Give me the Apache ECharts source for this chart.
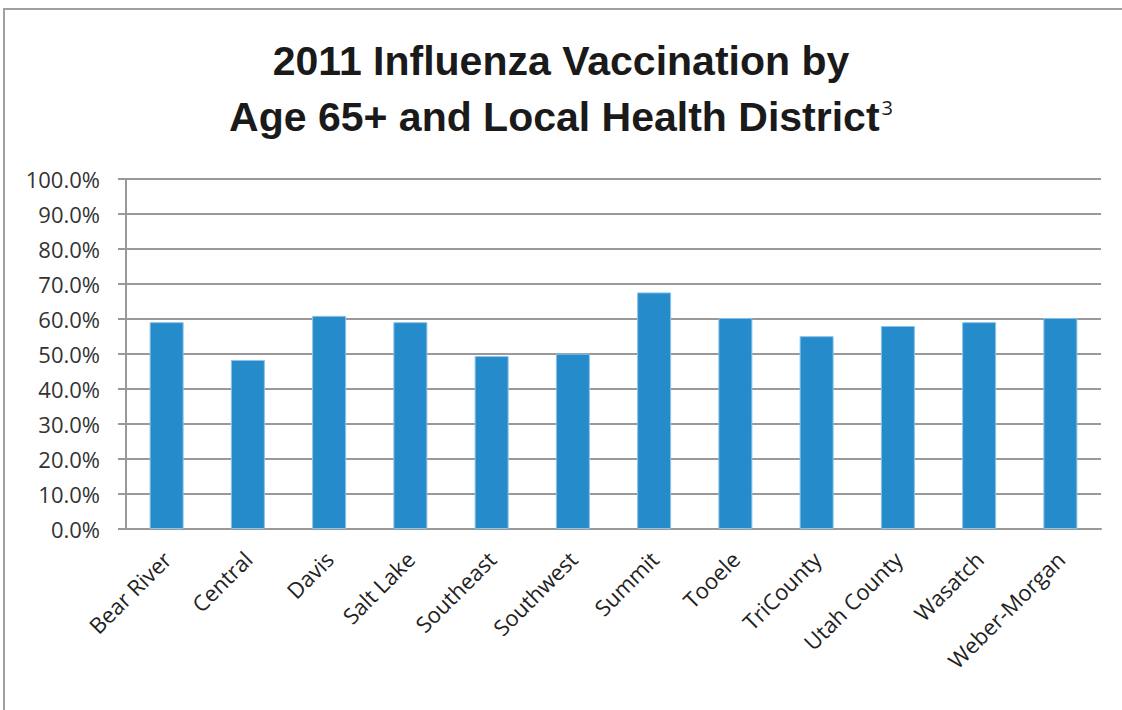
<!DOCTYPE html>
<html>
<head>
<meta charset="utf-8">
<script src="https://cdn.jsdelivr.net/npm/echarts@6/dist/echarts.min.js"></script>
<style>
html, body { margin: 0; padding: 0; background: #fff; }
#frame {
    position: absolute;
    left: 3px;
    top: 8px;
    width: 1200px;
    height: 800px;
    border-left: 2px solid #a0a0a0;
    border-top: 2px solid #a0a0a0;
}
#main {
    position: absolute;
    left: 0;
    top: 0;
    width: 1122px;
    height: 710px;
}
</style>
</head>
<body>
<div id="frame"></div>
<div id="main"></div>
<script>
// districts on the x axis
var districts = ['Bear River', 'Central', 'Davis', 'Salt Lake', 'Southeast', 'Southwest',
    'Summit', 'Tooele', 'TriCounty', 'Utah County', 'Wasatch', 'Weber-Morgan'];
// vaccination rate, percent
var vaccinated = [59.1, 48.3, 60.9, 59.1, 49.4, 50.1, 67.6, 60.3, 55.1, 58.0, 59.1, 60.3];
// y axis range
var yMin = 0;
var yMax = 100;
var yStep = 10;

var myChart = echarts.init(document.getElementById('main'), null, { renderer: 'svg' });

var option = {
    animation: false,
    title: {
        text: '{a|2011 Influenza Vaccination by}\n{a|Age 65+ and Local Health District}{s|3}',
        left: 'center',
        top: 28,
        textStyle: {
            rich: {
                a: {
                    fontFamily: '"Liberation Sans", sans-serif',
                    fontWeight: 'bold',
                    fontSize: 41,
                    color: '#1a1a1a',
                    lineHeight: 56
                },
                s: {
                    fontFamily: '"Open Sans", sans-serif',
                    fontWeight: 'normal',
                    fontSize: 20,
                    color: '#1a1a1a',
                    lineHeight: 56,
                    verticalAlign: 'top',
                    padding: [8, 0, 0, 2]
                }
            }
        }
    },
    grid: {
        left: 126,
        right: 21,
        top: 179,
        bottom: 181
    },
    xAxis: {
        type: 'category',
        data: districts,
        axisLine: { lineStyle: { color: '#999', width: 2 } },
        axisTick: { show: false },
        axisLabel: {
            rotate: 45,
            interval: 0,
            margin: 26,
            fontFamily: '"Open Sans", sans-serif',
            fontSize: 22,
            color: '#222'
        }
    },
    yAxis: {
        type: 'value',
        min: yMin,
        max: yMax,
        interval: yStep,
        axisLine: { show: true, lineStyle: { color: '#999', width: 2 } },
        axisTick: { show: true, inside: false, length: 8, lineStyle: { color: '#999', width: 2 } },
        splitLine: { lineStyle: { color: '#999', width: 2 } },
        axisLabel: {
            margin: 26,
            fontFamily: '"Open Sans", sans-serif',
            fontSize: 22,
            color: '#333',
            formatter: function (v) { return v.toFixed(1) + '%'; }
        }
    },
    series: [
        {
            type: 'bar',
            data: vaccinated,
            barWidth: 34,
            itemStyle: {
                color: '#268bcb',
                borderColor: '#8cc3e8',
                borderWidth: 1
            }
        }
    ]
};

myChart.setOption(option);
</script>
</body>
</html>
